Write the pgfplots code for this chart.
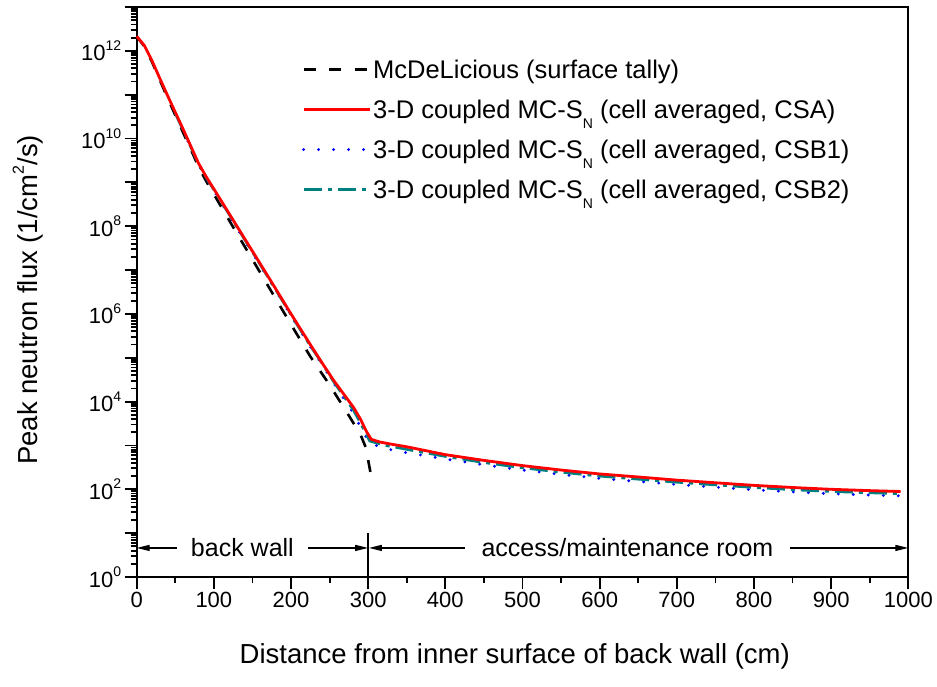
\documentclass[border=0pt]{standalone}
\usepackage{fontspec}
\setmainfont{Liberation Sans}
\usepackage{pgfplots}
\pgfplotsset{compat=1.18}
\usetikzlibrary{arrows.meta}
\definecolor{cteal}{RGB}{0,128,128}
\definecolor{cblue}{RGB}{0,0,255}
\definecolor{cred}{RGB}{255,0,0}
\newcommand{\ex}[1]{10\raisebox{0.48em}{\fontsize{14}{14}\selectfont #1}}
\newcommand{\subN}{\raisebox{-10.5pt}{\fontsize{14}{14}\selectfont N}}

\pgfplotstableread{
x y
0 2.14e12
10 1.26e12
20 5.5e11
30 2.14e11
40 8.5e10
50 3.4e10
60 1.38e10
70 5.75e9
80 2.29e9
90 1.07e9
100 5.37e8
125 9.55e7
150 1.74e7
175 3.16e6
200 5.75e5
225 1.07e5
250 2.4e4
275 4.79e3
290 1.78e3
297 891
303 240
}\mcnp

\pgfplotstableread{
x y
0 2.14e12
10 1.32e12
20 5.89e11
30 2.34e11
40 9.55e10
50 3.98e10
60 1.66e10
70 6.76e9
80 2.75e9
90 1.35e9
100 7.08e8
125 1.38e8
150 2.69e7
175 5.25e6
200 1.0e6
225 2.0e5
240 7.76e4
255 3.09e4
270 1.35e4
281 7.41e3
290 3.98e3
298 2.04e3
304 1.38e3
315 1.20e3
330 1.07e3
350 933
375 759
400 617
450 457
500 347
550 275
600 224
650 191
700 162
750 141
800 123
850 110
900 100
950 93.3
990 89.1
}\csa

\pgfplotstableread{
x y
50 3.63e10
60 1.55e10
70 6.31e9
80 2.57e9
90 1.26e9
100 6.46e8
125 1.26e8
150 2.45e7
175 4.79e6
200 9.12e5
225 1.78e5
242 6.31e4
255 2.69e4
268 1.2e4
281 5.37e3
291 2.45e3
302 1.12e3
322 851
341 724
362 631
400 490
450 363
500 275
550 219
600 178
650 151
700 129
750 112
800 97.7
850 87.1
900 79.4
950 74.1
990 70.8
}\csbone

\pgfplotstableread{
x y
50 3.72e10
60 1.58e10
70 6.46e9
80 2.63e9
90 1.29e9
100 6.76e8
125 1.32e8
150 2.57e7
175 5.01e6
200 9.55e5
225 1.86e5
242 6.76e4
255 2.88e4
268 1.35e4
281 6.31e3
291 3.02e3
302 1.26e3
322 1.0e3
341 871
362 741
400 562
450 407
500 309
550 245
600 200
650 170
700 145
750 126
800 110
850 97.7
900 89.1
950 83.2
990 79.4
}\csbtwo

\begin{document}
\begin{tikzpicture}
\useasboundingbox (-136.7pt,-109pt) rectangle (800.3pt,577pt);
\begin{axis}[
  at={(0pt,0pt)}, anchor=south west,
  scale only axis, width=771.6pt, height=570pt,
  xmin=0, xmax=1000, ymode=log, ymin=1, ymax=1e13,
  clip=false,
  xtick={0,100,...,1000}, minor x tick num=1,
  ytick={1,1e1,1e2,1e3,1e4,1e5,1e6,1e7,1e8,1e9,1e10,1e11,1e12,1e13},
  yticklabels={\ex{0},,\ex{2},,\ex{4},,\ex{6},,\ex{8},,\ex{10},,\ex{12},},
  tick align=outside, xtick pos=bottom, ytick pos=left,
  major tick length=12pt, minor tick length=6pt,
  every tick/.style={black, line width=1.8pt},
  axis line style={line width=2pt},
  tick label style={font=\fontsize{22}{26}\selectfont},
  /pgf/number format/assume math mode=true,
  /pgf/number format/set thousands separator={},
  xlabel={Distance from inner surface of back wall (cm)},
  ylabel={Peak neutron flux (1/cm\raisebox{0.5em}{\fontsize{16}{16}\selectfont 2}/s)},
  label style={font=\fontsize{27.5}{32}\selectfont},
  xlabel style={at={(axis description cs:0.49,-0.14)}, anchor=center},
  ylabel style={at={(axis description cs:-0.141,0.486)}, anchor=center},
  legend style={at={(axis description cs:0.21,0.915)}, anchor=north west,
    draw=none, fill=none, font=\fontsize{25.5}{30}\selectfont, row sep=16pt,
    /tikz/every even column/.append style={column sep=11pt}},
  legend cell align=left,
  legend image code/.code={\draw[#1] (0pt,0pt) -- (66pt,0pt);},
]
\addlegendimage{black, line width=2.6pt, dash pattern=on 12pt off 13.5pt}
\addlegendentry{McDeLicious (surface tally)}
\addlegendimage{cred, line width=2.8pt}
\addlegendentry{3-D coupled MC-S\subN{} (cell averaged, CSA)}
\addlegendimage{cblue, line width=3.2pt, line cap=round, dash pattern=on 0pt off 15pt}
\addlegendentry{3-D coupled MC-S\subN{} (cell averaged, CSB1)}
\addlegendimage{cteal, line width=2.6pt, dash pattern=on 18pt off 6pt on 4pt off 6pt}
\addlegendentry{3-D coupled MC-S\subN{} (cell averaged, CSB2)}

\addplot[forget plot, black, line width=2.6pt, dash pattern=on 12pt off 13.5pt] table[x=x,y=y] {\mcnp};
\addplot[forget plot, cblue, line width=3.2pt, line cap=round, dash pattern=on 0pt off 15pt] table[x=x,y=y] {\csbone};
\addplot[forget plot, cteal, line width=2.6pt, dash pattern=on 18pt off 6pt on 4pt off 6pt] table[x=x,y=y] {\csbtwo};
\addplot[forget plot, cred, line width=2.8pt] table[x=x,y=y] {\csa};

\draw[line width=1.3pt, -{Triangle[length=13pt,width=6pt]}] (axis cs:52,4.6) -- (axis cs:0,4.6);
\draw[line width=1.3pt, -{Triangle[length=13pt,width=6pt]}] (axis cs:222,4.6) -- (axis cs:300,4.6);
\draw[line width=1.3pt, -{Triangle[length=13pt,width=6pt]}] (axis cs:425,4.6) -- (axis cs:301,4.6);
\draw[line width=1.3pt, -{Triangle[length=13pt,width=6pt]}] (axis cs:847,4.6) -- (axis cs:1000,4.6);
\draw[line width=1.5pt] (axis cs:300,1) -- (axis cs:300,10);
\node[font=\fontsize{25}{30}\selectfont] at (axis cs:137,4.6) {back wall};
\node[font=\fontsize{25}{30}\selectfont] at (axis cs:636,4.6) {access/maintenance room};
\end{axis}
\end{tikzpicture}
\end{document}
